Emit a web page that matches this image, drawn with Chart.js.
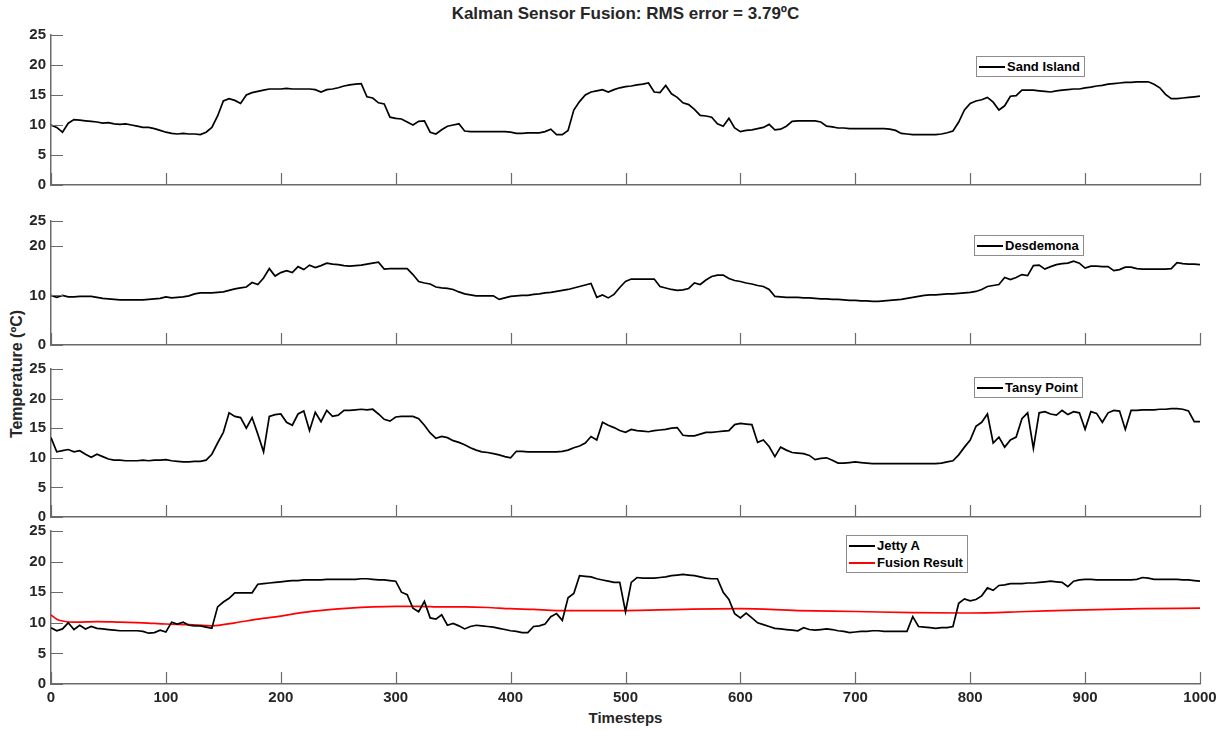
<!DOCTYPE html>
<html>
<head>
<meta charset="utf-8">
<script src="https://cdn.jsdelivr.net/npm/chart.js@4.4.1/dist/chart.umd.min.js"></script>
<style>
  body { margin: 0; background: #fff; width: 1225px; height: 730px; position: relative; overflow: hidden;
         font-family: "Liberation Sans", Arial, sans-serif; color: #262626; }
  canvas { position: absolute; left: 0; }
  .lbl { position: absolute; font-weight: bold; white-space: nowrap; }
  .legend { position: absolute; background: #fff; border: 1px solid #8c8c8c;
            font: bold 13px "Liberation Sans", Arial, sans-serif; color: #000; padding: 1px 4px 1px 2px; }
  .legend div { height: 17px; line-height: 17px; display: flex; align-items: center; white-space: nowrap; }
  .legend span.sw { display: inline-block; width: 26px; height: 2px; margin-right: 2px; }
</style>
</head>
<body>
<div class="lbl" id="title" style="left:51px;width:1149px;top:4px;text-align:center;font-size:17px;">Kalman Sensor Fusion: RMS error = 3.79ºC</div>
<div class="lbl" id="ylabel" style="left:17px;top:374px;font-size:16px;transform:translate(-50%,-50%) rotate(-90deg);">Temperature (ºC)</div>
<div class="lbl" id="xlabel" style="left:51px;width:1149px;top:709px;text-align:center;font-size:15px;">Timesteps</div>

<script>
// timesteps for the sensor traces (every 5th step)
const steps = Array.from({length: 201}, (_, i) => i * 5);

const sandIsland = [
  10.0, 9.6, 8.8, 10.3, 10.9, 10.8, 10.7, 10.6, 10.5, 10.3, 10.4, 10.2, 10.1, 10.2, 10.0, 9.8, 9.6, 9.6, 9.4, 9.1,
  8.8, 8.6, 8.5, 8.6, 8.5, 8.5, 8.4, 8.8, 9.6, 11.5, 14.0, 14.4, 14.1, 13.6, 15.0, 15.4, 15.6, 15.8, 16.0, 16.0,
  16.0, 16.1, 16.0, 16.0, 16.0, 16.0, 15.9, 15.5, 15.9, 16.0, 16.2, 16.5, 16.7, 16.8, 16.9, 14.7, 14.5, 13.7, 13.5, 11.3,
  11.1, 11.0, 10.5, 10.0, 10.6, 10.7, 8.8, 8.5, 9.2, 9.8, 10.0, 10.2, 9.0, 8.9, 8.9, 8.9, 8.9, 8.9, 8.9, 8.9,
  8.8, 8.6, 8.6, 8.7, 8.7, 8.7, 8.9, 9.3, 8.4, 8.4, 9.1, 12.5, 13.9, 15.0, 15.5, 15.7, 15.9, 15.5, 15.9, 16.2,
  16.4, 16.5, 16.7, 16.8, 17.0, 15.5, 15.4, 16.6, 15.2, 14.6, 13.7, 13.4, 12.6, 11.6, 11.5, 11.3, 10.2, 9.8, 11.1, 9.5,
  8.9, 9.1, 9.2, 9.4, 9.6, 10.1, 9.2, 9.3, 9.8, 10.6, 10.7, 10.7, 10.7, 10.7, 10.5, 9.8, 9.7, 9.5, 9.5, 9.4,
  9.4, 9.4, 9.4, 9.4, 9.4, 9.4, 9.3, 9.1, 8.6, 8.5, 8.4, 8.4, 8.4, 8.4, 8.4, 8.5, 8.7, 9.0, 10.5, 12.5,
  13.6, 14.0, 14.2, 14.6, 13.8, 12.5, 13.2, 14.8, 14.9, 15.8, 15.8, 15.8, 15.7, 15.6, 15.5, 15.7, 15.8, 15.9, 16.0, 16.0,
  16.2, 16.3, 16.5, 16.6, 16.8, 16.9, 17.0, 17.1, 17.1, 17.2, 17.2, 17.2, 16.8, 16.2, 15.1, 14.4, 14.4, 14.5, 14.6, 14.7,
  14.8
];

const desdemona = [
  10.0, 9.6, 10.0, 9.7, 9.7, 9.8, 9.8, 9.8, 9.6, 9.4, 9.3, 9.2, 9.1, 9.1, 9.1, 9.1, 9.1, 9.2, 9.3, 9.4,
  9.7, 9.5, 9.6, 9.7, 9.9, 10.3, 10.5, 10.5, 10.5, 10.6, 10.7, 11.0, 11.3, 11.5, 11.7, 12.6, 12.2, 13.5, 15.4, 13.9,
  14.6, 15.0, 14.6, 15.8, 15.2, 16.1, 15.6, 16.0, 16.5, 16.3, 16.2, 16.0, 15.9, 16.0, 16.1, 16.3, 16.5, 16.7, 15.3, 15.4,
  15.4, 15.4, 15.4, 14.2, 12.8, 12.5, 12.3, 11.7, 11.5, 11.4, 11.2, 10.7, 10.3, 10.1, 9.9, 9.9, 9.9, 9.9, 9.2, 9.5,
  9.8, 9.9, 10.0, 10.0, 10.2, 10.3, 10.5, 10.6, 10.8, 11.0, 11.2, 11.5, 11.8, 12.1, 12.4, 9.6, 10.1, 9.5, 10.2, 11.6,
  12.8, 13.3, 13.3, 13.3, 13.3, 13.3, 11.8, 11.5, 11.2, 11.0, 11.1, 11.4, 12.5, 12.2, 13.1, 13.8, 14.1, 14.1, 13.4, 13.0,
  12.8, 12.5, 12.3, 12.0, 11.8, 11.2, 9.8, 9.7, 9.6, 9.6, 9.6, 9.5, 9.5, 9.4, 9.3, 9.3, 9.2, 9.2, 9.1, 9.0,
  9.0, 8.9, 8.9, 8.8, 8.8, 8.9, 9.0, 9.1, 9.2, 9.4, 9.6, 9.8, 10.0, 10.1, 10.1, 10.2, 10.3, 10.3, 10.4, 10.5,
  10.6, 10.8, 11.2, 11.8, 12.0, 12.2, 13.6, 13.2, 13.6, 14.2, 14.0, 16.0, 16.1, 15.3, 15.8, 16.2, 16.4, 16.5, 16.9, 16.5,
  15.5, 15.9, 15.9, 15.8, 15.8, 15.0, 15.2, 15.7, 15.7, 15.4, 15.3, 15.3, 15.3, 15.3, 15.3, 15.4, 16.6, 16.4, 16.3, 16.3,
  16.2
];

const tansyPoint = [
  13.4, 11.0, 11.2, 11.4, 11.0, 11.2, 10.6, 10.1, 10.6, 10.2, 9.8, 9.6, 9.6, 9.5, 9.5, 9.5, 9.6, 9.5, 9.6, 9.6,
  9.7, 9.5, 9.4, 9.3, 9.3, 9.4, 9.4, 9.6, 10.6, 12.5, 14.3, 17.6, 17.0, 16.8, 15.0, 16.8, 14.0, 11.0, 17.0, 17.3,
  17.4, 16.0, 15.5, 17.4, 17.9, 14.6, 17.7, 16.1, 18.0, 17.0, 17.2, 18.0, 18.0, 18.1, 18.2, 18.1, 18.2, 17.4, 16.5, 16.2,
  16.9, 17.0, 17.0, 17.0, 16.6, 15.5, 14.2, 13.3, 13.6, 13.4, 12.9, 12.6, 12.2, 11.7, 11.3, 11.0, 10.9, 10.7, 10.5, 10.2,
  10.0, 11.1, 11.1, 11.0, 11.0, 11.0, 11.0, 11.0, 11.0, 11.1, 11.3, 11.7, 12.0, 12.5, 13.6, 13.0, 16.0, 15.5, 15.1, 14.6,
  14.3, 14.8, 14.6, 14.5, 14.4, 14.6, 14.7, 14.8, 15.0, 15.1, 13.8, 13.7, 13.7, 14.0, 14.3, 14.3, 14.4, 14.5, 14.6, 15.6,
  15.8, 15.7, 15.6, 12.6, 13.0, 11.9, 10.2, 11.8, 11.3, 10.9, 10.8, 10.7, 10.4, 9.7, 9.9, 10.0, 9.6, 9.1, 9.1, 9.2,
  9.3, 9.2, 9.1, 9.0, 9.0, 9.0, 9.0, 9.0, 9.0, 9.0, 9.0, 9.0, 9.0, 9.0, 9.0, 9.1, 9.3, 9.5, 10.5, 11.8,
  13.0, 15.3, 16.0, 17.4, 12.5, 13.5, 11.8, 13.0, 13.5, 16.6, 17.6, 11.6, 17.6, 17.8, 17.4, 17.2, 18.0, 17.3, 17.8, 17.6,
  14.8, 17.8, 17.5, 16.0, 17.6, 18.0, 17.9, 14.8, 18.0, 18.0, 18.1, 18.1, 18.1, 18.2, 18.2, 18.3, 18.3, 18.2, 17.9, 16.1,
  16.1
];

const jettyA = [
  9.2, 8.7, 9.0, 10.0, 8.9, 9.6, 9.0, 9.4, 9.1, 9.0, 8.9, 8.8, 8.7, 8.7, 8.7, 8.7, 8.6, 8.3, 8.4, 8.8,
  8.5, 10.1, 9.8, 10.1, 9.6, 9.5, 9.5, 9.3, 9.1, 12.6, 13.4, 14.0, 14.9, 14.9, 14.9, 14.9, 16.3, 16.4, 16.5, 16.6,
  16.7, 16.8, 16.9, 16.9, 17.0, 17.0, 17.0, 17.0, 17.1, 17.1, 17.1, 17.1, 17.1, 17.1, 17.2, 17.2, 17.1, 17.0, 17.0, 16.9,
  16.8, 15.0, 14.6, 12.4, 11.8, 13.5, 10.8, 10.6, 11.3, 9.6, 9.9, 9.5, 9.0, 9.4, 9.6, 9.5, 9.4, 9.3, 9.1, 8.9,
  8.7, 8.6, 8.4, 8.4, 9.4, 9.5, 9.8, 11.0, 11.5, 10.4, 14.1, 14.8, 17.7, 17.6, 17.5, 17.2, 17.0, 16.8, 16.6, 16.6,
  11.8, 16.6, 17.4, 17.3, 17.3, 17.3, 17.4, 17.5, 17.7, 17.8, 17.9, 17.8, 17.7, 17.5, 17.3, 17.2, 17.2, 15.0, 13.8, 11.5,
  10.8, 11.6, 10.8, 10.0, 9.7, 9.4, 9.1, 9.0, 8.9, 8.8, 8.7, 9.2, 8.9, 8.8, 8.9, 9.0, 8.9, 8.7, 8.6, 8.4,
  8.5, 8.6, 8.6, 8.7, 8.7, 8.6, 8.6, 8.6, 8.6, 8.6, 11.0, 9.4, 9.3, 9.2, 9.1, 9.2, 9.2, 9.4, 13.2, 13.9,
  13.6, 13.8, 14.4, 15.7, 15.3, 16.1, 16.2, 16.4, 16.4, 16.4, 16.5, 16.5, 16.6, 16.7, 16.8, 16.7, 16.6, 15.9, 16.8, 17.0,
  17.1, 17.1, 17.0, 17.0, 17.0, 17.0, 17.0, 17.0, 17.0, 17.1, 17.4, 17.3, 17.1, 17.1, 17.1, 17.1, 17.1, 17.0, 17.0, 16.9,
  16.8
];

// fused estimate is smooth, sampled more sparsely
const fusionSteps = [0, 5, 10, 20, 40, 60, 80, 100, 120, 140, 160, 180, 200, 220, 240, 260, 280, 300, 320, 340,
  360, 380, 400, 420, 440, 460, 480, 500, 550, 600, 650, 700, 750, 800, 850, 900, 950, 1000];
const fusionResult = [11.3, 10.6, 10.3, 10.1, 10.2, 10.1, 10.0, 9.8, 9.7, 9.5, 10.0, 10.6, 11.1, 11.7, 12.1, 12.4, 12.6, 12.7, 12.7, 12.6,
  12.6, 12.5, 12.3, 12.2, 12.0, 12.0, 12.0, 12.0, 12.2, 12.3, 12.0, 11.85, 11.65, 11.6, 11.85, 12.1, 12.3, 12.4];

const TEXT = '#262626';
const AXIS = '#6b6b6b';
const TICK_LEN = 12;
const FONT = {family: '"Liberation Sans", Arial, sans-serif', size: 15, weight: 'bold'};

function pts(xs, ys) {
  return xs.map((x, i) => ({x: x, y: ys[i]}));
}

// MATLAB style ticks: pointing into the plot
const inwardTicks = {
  id: 'inwardTicks',
  afterDatasetsDraw(chart) {
    const {ctx, chartArea: a, scales: {x, y}} = chart;
    ctx.save();
    ctx.strokeStyle = AXIS;
    ctx.lineWidth = 1.2;
    ctx.beginPath();
    x.ticks.forEach(t => {
      const px = Math.round(x.getPixelForValue(t.value)) + 0.5;
      ctx.moveTo(px, a.bottom);
      ctx.lineTo(px, a.bottom - TICK_LEN);
    });
    y.ticks.forEach(t => {
      const py = Math.round(y.getPixelForValue(t.value)) + 0.5;
      ctx.moveTo(a.left, py);
      ctx.lineTo(a.left + TICK_LEN, py);
    });
    ctx.stroke();
    ctx.restore();
  }
};

// panel layout: pixel rows of value 25 and value 0, legend box
const panels = [
  {top: 33, bottom: 185.3, yStep: 5, xLabels: false, series: [{label: 'Sand Island', xs: steps, ys: sandIsland, color: '#000'}],
   legend: {left: 976, top: 56}},
  {top: 219.3, bottom: 345.7, yStep: 10, xLabels: false, series: [{label: 'Desdemona', xs: steps, ys: desdemona, color: '#000'}],
   legend: {left: 974, top: 235}},
  {top: 367, bottom: 517, yStep: 5, xLabels: false, series: [{label: 'Tansy Point', xs: steps, ys: tansyPoint, color: '#000'}],
   legend: {left: 974, top: 377}},
  {top: 529, bottom: 684.3, yStep: 5, xLabels: true, series: [
      {label: 'Jetty A', xs: steps, ys: jettyA, color: '#000'},
      {label: 'Fusion Result', xs: fusionSteps, ys: fusionResult, color: '#ff0000', smooth: true}],
   legend: {left: 846, top: 535}}
];

panels.forEach(p => {
  const padTop = 12;
  const xH = p.xLabels ? 28 : 20;
  const canvas = document.createElement('canvas');
  const h = Math.round(padTop + (p.bottom - p.top) + xH);
  canvas.width = 1225;
  canvas.height = h;
  canvas.style.top = (p.top - padTop) + 'px';
  document.body.appendChild(canvas);

  const chart = new Chart(canvas.getContext('2d'), {
    type: 'line',
    data: {
      datasets: p.series.map(s => ({
        label: s.label,
        data: pts(s.xs, s.ys),
        borderColor: s.color,
        borderWidth: 1.7,
        pointRadius: 0,
        tension: s.smooth ? 0.4 : 0,
        cubicInterpolationMode: s.smooth ? 'monotone' : 'default'
      }))
    },
    options: {
      responsive: false,
      animation: false,
      devicePixelRatio: 1,
      layout: {padding: {top: padTop, right: 25, left: 0, bottom: 0}, autoPadding: false},
      plugins: {legend: {display: false}, tooltip: {enabled: false}, title: {display: false}},
      scales: {
        x: {
          type: 'linear', min: 0, max: 1000,
          ticks: {stepSize: 100, display: p.xLabels, color: TEXT, font: FONT, padding: 5, maxRotation: 0,
                  callback: v => String(v)},
          grid: {display: false, drawTicks: false},
          border: {display: true, color: AXIS, width: 1.5},
          afterFit: s => { s.height = xH; }
        },
        y: {
          min: 0, max: 25,
          ticks: {stepSize: p.yStep, color: TEXT, font: FONT, padding: 5},
          grid: {display: false, drawTicks: false},
          border: {display: true, color: AXIS, width: 1.5},
          afterFit: s => { s.width = 51; }
        }
      }
    },
    plugins: [inwardTicks]
  });

  // legend box built from the chart's datasets
  const lg = document.createElement('div');
  lg.className = 'legend';
  lg.style.left = p.legend.left + 'px';
  lg.style.top = p.legend.top + 'px';
  chart.data.datasets.forEach(ds => {
    const row = document.createElement('div');
    const sw = document.createElement('span');
    sw.className = 'sw';
    sw.style.background = ds.borderColor;
    row.appendChild(sw);
    row.appendChild(document.createTextNode(ds.label));
    lg.appendChild(row);
  });
  document.body.appendChild(lg);
});
</script>
</body>
</html>
